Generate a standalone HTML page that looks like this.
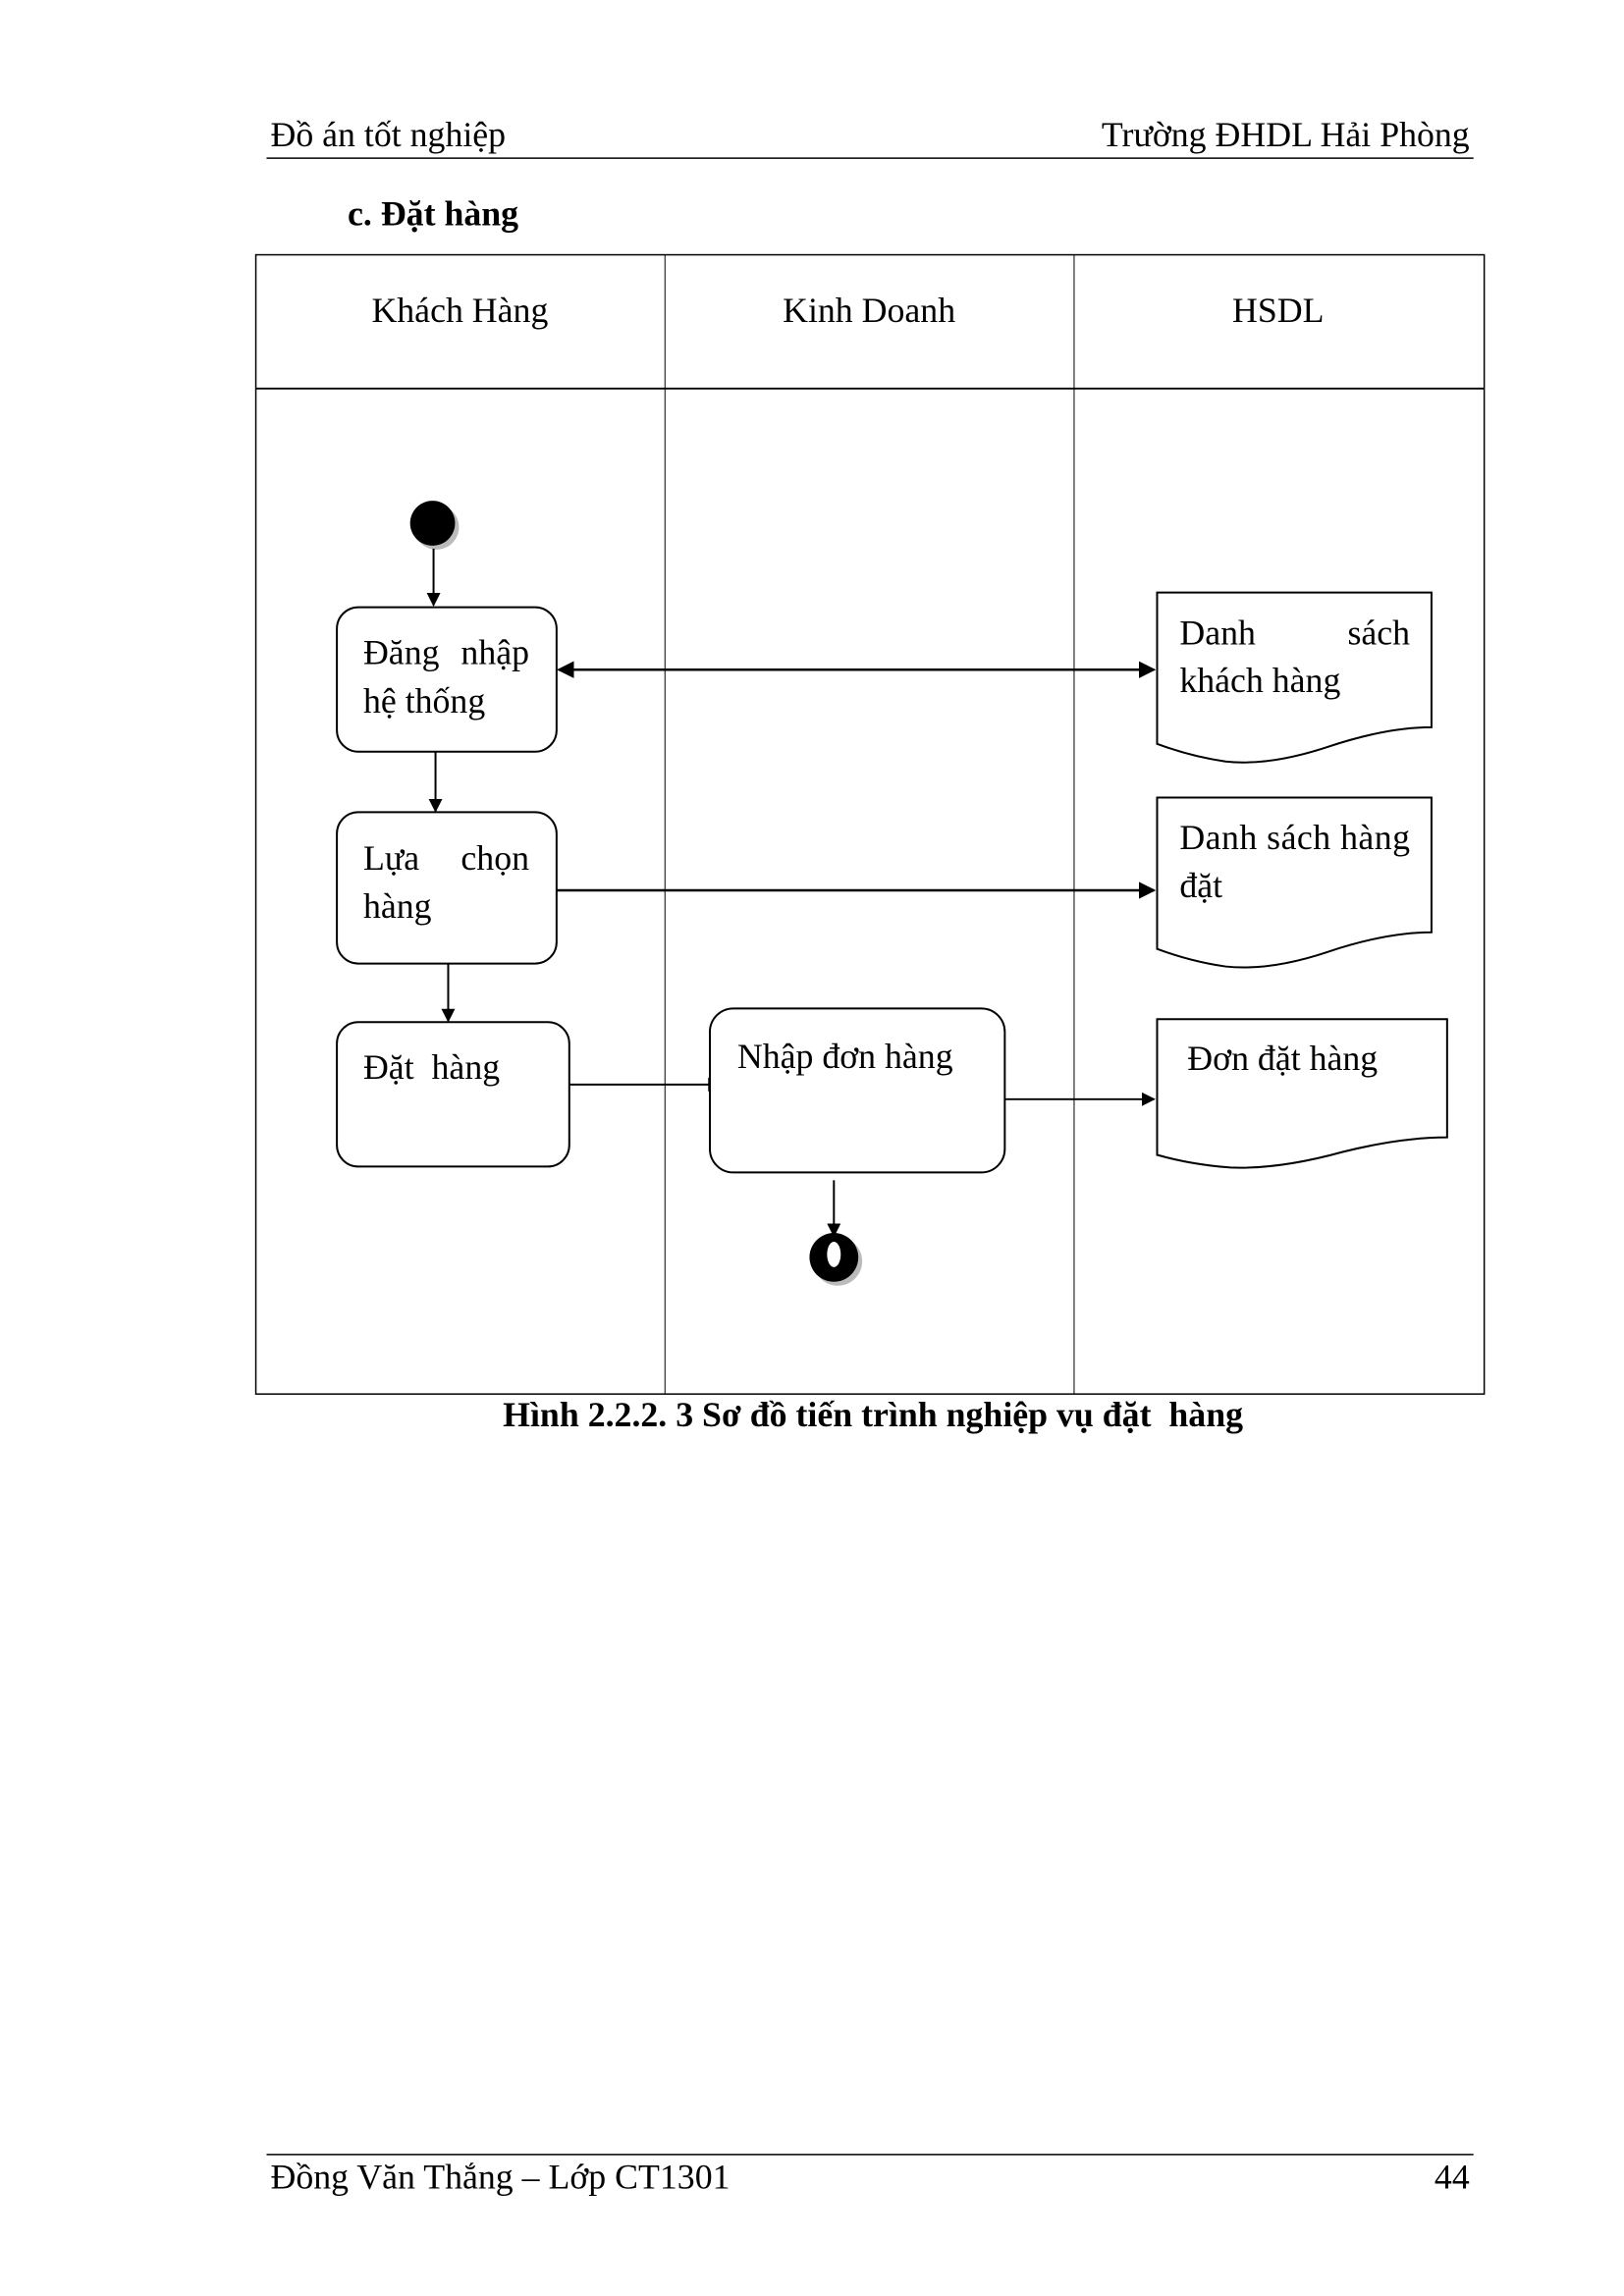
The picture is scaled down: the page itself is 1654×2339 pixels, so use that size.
<!DOCTYPE html>
<html><head><meta charset="utf-8"><style>
body{margin:0;background:#fff;}
svg{display:block;}
text{font-family:"Liberation Serif",serif;font-size:36px;fill:#000;white-space:pre;}
.b{font-weight:bold;}
</style></head><body>
<svg width="1654" height="2339" viewBox="0 0 1654 2339" xmlns="http://www.w3.org/2000/svg">
<defs>
<marker id="ah" viewBox="0 0 10 10" refX="9" refY="5" markerWidth="7" markerHeight="7" orient="auto-start-reverse"><path d="M0,0 L10,5 L0,10 z" fill="#000"/></marker>
</defs>
<g transform="scale(0.9945)">
<text x="277" y="150">Đồ án tốt nghiệp</text>
<text x="1505" y="150" text-anchor="end">Trường ĐHDL Hải Phòng</text>
<line x1="273" y1="162" x2="1509" y2="162" stroke="#000" stroke-width="1.5"/>
<text x="356" y="231" class="b">c. Đặt hàng</text>

<rect x="262" y="261" width="1258" height="1167" fill="none" stroke="#000" stroke-width="1.5"/>
<line x1="262" y1="398" x2="1520" y2="398" stroke="#000" stroke-width="2"/>
<line x1="681" y1="261" x2="681" y2="1428" stroke="#000" stroke-width="1"/>
<line x1="1100" y1="261" x2="1100" y2="1428" stroke="#000" stroke-width="1"/>
<text x="471" y="330" text-anchor="middle">Khách Hàng</text>
<text x="890" y="330" text-anchor="middle">Kinh Doanh</text>
<text x="1309" y="330" text-anchor="middle">HSDL</text>

<circle cx="447" cy="540" r="23" fill="#bbb"/>
<circle cx="443" cy="536" r="23" fill="#000"/>
<line x1="444" y1="562" x2="444" y2="620" stroke="#000" stroke-width="2" marker-end="url(#ah)"/>

<rect x="345" y="622" width="225" height="148" rx="22" fill="none" stroke="#000" stroke-width="2"/>
<text x="372" y="680">Đăng</text><text x="542" y="680" text-anchor="end">nhập</text>
<text x="372" y="730">hệ thống</text>
<line x1="446" y1="770" x2="446" y2="831" stroke="#000" stroke-width="2" marker-end="url(#ah)"/>

<rect x="345" y="832" width="225" height="155" rx="22" fill="none" stroke="#000" stroke-width="2"/>
<text x="372" y="891">Lựa</text><text x="542" y="891" text-anchor="end">chọn</text>
<text x="372" y="940">hàng</text>
<line x1="459" y1="987" x2="459" y2="1046" stroke="#000" stroke-width="2" marker-end="url(#ah)"/>

<rect x="345" y="1047" width="238" height="148" rx="22" fill="none" stroke="#000" stroke-width="2"/>
<text x="372" y="1105">Đặt  hàng</text>
<line x1="583" y1="1111" x2="726" y2="1111" stroke="#000" stroke-width="2"/>
<line x1="726" y1="1104" x2="726" y2="1118" stroke="#000" stroke-width="1.5"/>

<rect x="727" y="1033" width="302" height="168" rx="24" fill="none" stroke="#000" stroke-width="2"/>
<text x="755" y="1094">Nhập đơn hàng</text>
<line x1="1029" y1="1126" x2="1182" y2="1126" stroke="#000" stroke-width="2" marker-end="url(#ah)"/>

<line x1="854" y1="1209" x2="854" y2="1266" stroke="#000" stroke-width="2" marker-end="url(#ah)"/>
<circle cx="858" cy="1292" r="25" fill="#bbb"/>
<circle cx="854" cy="1288" r="25" fill="#000"/>
<ellipse cx="854" cy="1285" rx="7" ry="13" fill="#fff"/>

<path d="M1185,607 L1466,607 L1466,745 Q1420,745 1360,765 Q1300,785 1255,780 Q1220,775 1185,762 Z" fill="none" stroke="#000" stroke-width="2"/>
<text x="1208" y="660">Danh</text><text x="1444" y="660" text-anchor="end">sách</text>
<text x="1208" y="709">khách hàng</text>
<line x1="572" y1="686" x2="1182" y2="686" stroke="#000" stroke-width="2.5" marker-start="url(#ah)" marker-end="url(#ah)"/>

<path d="M1185,817 L1466,817 L1466,955 Q1420,955 1360,975 Q1300,995 1255,990 Q1220,985 1185,972 Z" fill="none" stroke="#000" stroke-width="2"/>
<text x="1208" y="870" textLength="236">Danh sách hàng</text>
<text x="1208" y="919">đặt</text>
<line x1="570" y1="912" x2="1182" y2="912" stroke="#000" stroke-width="2.5" marker-end="url(#ah)"/>

<path d="M1185,1044 L1482,1044 L1482,1165 Q1435,1165 1375,1180 Q1310,1198 1260,1196 Q1220,1193 1185,1183 Z" fill="none" stroke="#000" stroke-width="2"/>
<text x="1216" y="1096">Đơn đặt hàng</text>

<text x="894" y="1461" text-anchor="middle" class="b">Hình 2.2.2. 3 Sơ đồ tiến trình nghiệp vụ đặt  hàng</text>

<line x1="273" y1="2207" x2="1509" y2="2207" stroke="#000" stroke-width="1.5"/>
<text x="277" y="2242">Đồng Văn Thắng – Lớp CT1301</text>
<text x="1505" y="2242" text-anchor="end">44</text>
</g>
</svg>
</body></html>
